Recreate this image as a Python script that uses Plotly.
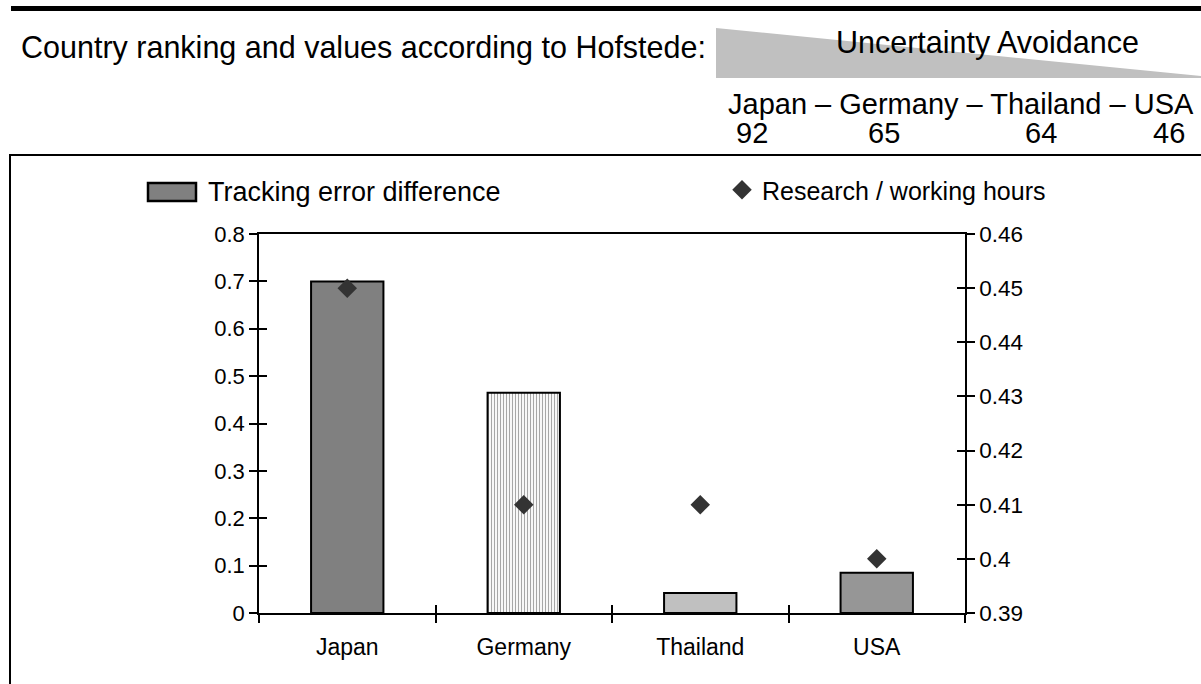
import plotly.graph_objects as go

# ---------------- data ----------------
countries = ["Japan", "Germany", "Thailand", "USA"]
tracking_error_diff = [0.70, 0.465, 0.042, 0.085]
research_hours = [0.45, 0.41, 0.41, 0.40]
hofstede_uai = [92, 65, 64, 46]

left_tick_vals = [0, 0.1, 0.2, 0.3, 0.4, 0.5, 0.6, 0.7, 0.8]
left_tick_text = ["0", "0.1", "0.2", "0.3", "0.4", "0.5", "0.6", "0.7", "0.8"]
right_tick_vals = [0.39, 0.40, 0.41, 0.42, 0.43, 0.44, 0.45, 0.46]
right_tick_text = ["0.39", "0.4", "0.41", "0.42", "0.43", "0.44", "0.45", "0.46"]
category_bounds = [-0.5, 0.5, 1.5, 2.5, 3.5]

BAR_NAME = "Tracking error difference"
DIAMOND_NAME = "Research / working hours"

# ---------------- styles ----------------
bar_colors = ["#808080", "#f8f8f8", "#c0c0c0", "#969696"]
bar_patterns = ["", "|", "", ""]
FONT = "Liberation Sans, Arial, sans-serif"
W, H = 1201, 684
L, R, T, B = 259, 965, 234, 613


def px(x):
    return (x - L) / (R - L)


def py(y):
    return (B - y) / (B - T)


fig = go.Figure()

fig.add_trace(go.Bar(
    x=countries, y=tracking_error_diff, name=BAR_NAME,
    width=0.41, showlegend=False,
    marker=dict(color=bar_colors, line=dict(color="black", width=2),
                pattern=dict(shape=bar_patterns, fgcolor="#ececec", size=3, solidity=0.3)),
    hoverinfo="x+y",
))
fig.add_trace(go.Scatter(
    x=countries, y=research_hours, name=DIAMOND_NAME,
    mode="markers", yaxis="y2",
    marker=dict(symbol="diamond", size=15, color="#333333"),
))
# helper traces so the crossing-tick overlay axes are drawn
fig.add_trace(go.Scatter(x=[None], y=[None], xaxis="x2", yaxis="y3",
                         showlegend=False, hoverinfo="skip"))
fig.add_trace(go.Scatter(x=[None], y=[None], xaxis="x2", yaxis="y4",
                         showlegend=False, hoverinfo="skip"))

axis_common = dict(showgrid=False, zeroline=False, tickcolor="black", tickwidth=1.5)

fig.update_layout(
    width=W, height=H,
    margin=dict(l=L, r=W - R, t=T, b=H - B, pad=0),
    paper_bgcolor="white", plot_bgcolor="white",
    font=dict(family=FONT, size=22, color="black"),
    xaxis=dict(type="category", categoryorder="array", categoryarray=countries,
               range=[-0.5, 3.5], tickson="boundaries", ticks="outside", ticklen=8,
               showline=True, linecolor="black", linewidth=1.5, mirror=True,
               tickfont=dict(size=23), ticklabelstandoff=13, **axis_common),
    xaxis2=dict(overlaying="x", anchor="y", side="bottom", type="linear",
                range=[-0.5, 3.5], tickvals=category_bounds, ticks="inside", ticklen=8,
                showticklabels=False, showline=False, **axis_common),
    yaxis=dict(range=[0, 0.8], tickvals=left_tick_vals, ticktext=left_tick_text,
               ticks="outside", ticklen=8, showline=True, linecolor="black", linewidth=1.5,
               tickfont=dict(size=22), **axis_common),
    yaxis2=dict(overlaying="y", side="right", range=[0.39, 0.46],
                tickvals=right_tick_vals, ticktext=right_tick_text,
                ticks="outside", ticklen=8, showline=True, linecolor="black", linewidth=1.5,
                tickfont=dict(size=22.5), **axis_common),
    yaxis3=dict(overlaying="y", side="left", anchor="x2", range=[0, 0.8],
                tickvals=left_tick_vals, ticks="inside", ticklen=8,
                showticklabels=False, showline=False, **axis_common),
    yaxis4=dict(overlaying="y", side="right", anchor="x2", range=[0.39, 0.46],
                tickvals=right_tick_vals, ticks="inside", ticklen=8,
                showticklabels=False, showline=False, **axis_common),
    legend=dict(x=px(722), y=py(190), xanchor="left", yanchor="middle",
                bgcolor="rgba(0,0,0,0)", font=dict(size=25)),
    showlegend=True,
)

shapes = [
    # thick rule at the top
    dict(type="line", xref="paper", yref="paper", x0=px(11), x1=px(1205),
         y0=py(8.5), y1=py(8.5), line=dict(color="black", width=5)),
    # frame around the chart
    dict(type="rect", xref="paper", yref="paper", x0=px(10), x1=px(1215),
         y0=py(155), y1=py(700), line=dict(color="black", width=2)),
    # grey wedge for Uncertainty Avoidance
    dict(type="path", xref="paper", yref="paper", layer="below",
         path=f"M {px(716)},{py(28)} L {px(1201)},{py(76)} L {px(1201)},{py(78)} L {px(716)},{py(78)} Z",
         fillcolor="#c0c0c0", line=dict(width=0)),
    # legend key for the bar series
    dict(type="rect", xref="paper", yref="paper", x0=px(148), x1=px(196),
         y0=py(201), y1=py(183), fillcolor=bar_colors[0],
         line=dict(color="black", width=2.5)),
]
fig.update_layout(shapes=shapes)

annotations = [
    dict(text="Country ranking and values according to Hofstede:", x=px(19), y=py(47),
         xanchor="left", yanchor="middle", font=dict(size=30.5)),
    dict(text="Uncertainty Avoidance", x=px(987), y=py(42),
         xanchor="center", yanchor="middle", font=dict(size=30.5)),
    dict(text=" – ".join(countries), x=px(1196), y=py(104),
         xanchor="right", yanchor="middle", font=dict(size=29)),
    dict(text=BAR_NAME, x=px(206), y=py(192), xanchor="left", yanchor="middle",
         font=dict(size=27)),
]
value_centers = [752, 884, 1041, 1169]
for v, cx in zip(hofstede_uai, value_centers):
    annotations.append(dict(text=str(v), x=px(cx), y=py(133), xanchor="center",
                            yanchor="middle", font=dict(size=29)))
for a in annotations:
    a.update(xref="paper", yref="paper", showarrow=False)
fig.update_layout(annotations=annotations)

fig.write_html("out.html", config={"displayModeBar": False},
               post_script="document.body.style.margin='0px';document.body.style.overflow='hidden';")
